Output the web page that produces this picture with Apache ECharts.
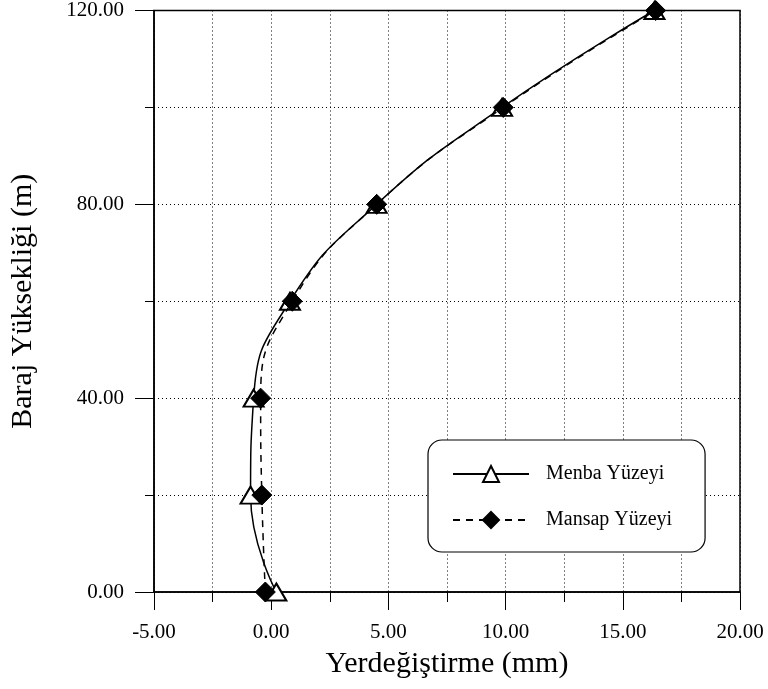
<!DOCTYPE html>
<html>
<head>
<meta charset="utf-8">
<script src="https://cdn.jsdelivr.net/npm/echarts@6/dist/echarts.min.js"></script>
<style>
  html, body { margin: 0; padding: 0; background: #fff; }
  #chart { width: 768px; height: 689px; }
</style>
</head>
<body>
<div id="chart"></div>
<script>
// Baraj yüksekliği (m)
const heights = [0, 20, 40, 60, 80, 100, 120];
// Yerdeğiştirme (mm)
const menba = [0.22, -0.88, -0.75, 0.8, 4.5, 9.85, 16.35];
const mansap = [-0.25, -0.4, -0.45, 0.9, 4.5, 9.9, 16.4];

const FONT = '"Liberation Serif", "DejaVu Serif", serif';

const toPairs = (xs) => xs.map((x, i) => [x, heights[i]]);

const chart = echarts.init(document.getElementById('chart'));

const dotted = { color: '#000', type: [1, 3], width: 1 };

const option = {
  backgroundColor: '#fff',
  animation: false,
  textStyle: { fontFamily: FONT, color: '#000' },
  grid: {
    left: 152, right: 28, top: 10, bottom: 97,
    show: true, borderColor: '#000', borderWidth: 1.5
  },
  legend: {
    left: 428, top: 440,
    orient: 'vertical',
    padding: [24, 33, 22, 24],
    itemWidth: 76, itemHeight: 20, itemGap: 26,
    borderColor: '#000', borderWidth: 1.2, borderRadius: 14,
    backgroundColor: '#fff',
    textStyle: { fontFamily: FONT, fontSize: 20, color: '#000', padding: [0, 0, 0, 12] },
    data: ['Menba Yüzeyi', 'Mansap Yüzeyi']
  },
  xAxis: {
    type: 'value',
    min: -5, max: 20, interval: 5,
    name: 'Yerdeğiştirme (mm)',
    nameLocation: 'middle', nameGap: 57,
    nameTextStyle: { fontFamily: FONT, fontSize: 30, color: '#000' },
    axisLine: { onZero: false, lineStyle: { color: '#000', width: 1.5 } },
    axisTick: { length: 18, lineStyle: { color: '#000' } },
    minorTick: { show: true, splitNumber: 2, length: 10, lineStyle: { color: '#000' } },
    axisLabel: { margin: 30, fontSize: 21, color: '#000', fontFamily: FONT,
      formatter: (v) => v.toFixed(2) },
    splitLine: { show: true, lineStyle: dotted },
    minorSplitLine: { show: true, lineStyle: dotted }
  },
  yAxis: {
    type: 'value',
    min: 0, max: 120, interval: 40,
    name: 'Baraj Yüksekliği (m)',
    nameLocation: 'middle', nameGap: 116, nameRotate: 90,
    nameTextStyle: { fontFamily: FONT, fontSize: 30, color: '#000' },
    axisLine: { onZero: false, lineStyle: { color: '#000', width: 1.5 } },
    axisTick: { length: 19, lineStyle: { color: '#000' } },
    minorTick: { show: true, splitNumber: 2, length: 9, lineStyle: { color: '#000' } },
    axisLabel: { margin: 30, fontSize: 21, color: '#000', fontFamily: FONT,
      formatter: (v) => v.toFixed(2) },
    splitLine: { show: true, lineStyle: dotted },
    minorSplitLine: { show: true, lineStyle: dotted }
  },
  series: [
    {
      name: 'Menba Yüzeyi',
      type: 'line',
      smooth: 0.5,
      data: toPairs(menba),
      symbol: 'triangle',
      symbolSize: [20, 17],
      lineStyle: { color: '#000', width: 1.5, type: 'solid' },
      itemStyle: { color: '#fff', borderColor: '#000', borderWidth: 2 },
      z: 3
    },
    {
      name: 'Mansap Yüzeyi',
      type: 'line',
      smooth: 0.5,
      data: toPairs(mansap),
      symbol: 'diamond',
      symbolSize: [20, 20],
      lineStyle: { color: '#000', width: 1.5, type: [7, 6] },
      itemStyle: { color: '#000', borderColor: '#000', borderWidth: 1 },
      z: 4
    }
  ]
};

chart.setOption(option);
</script>
</body>
</html>
